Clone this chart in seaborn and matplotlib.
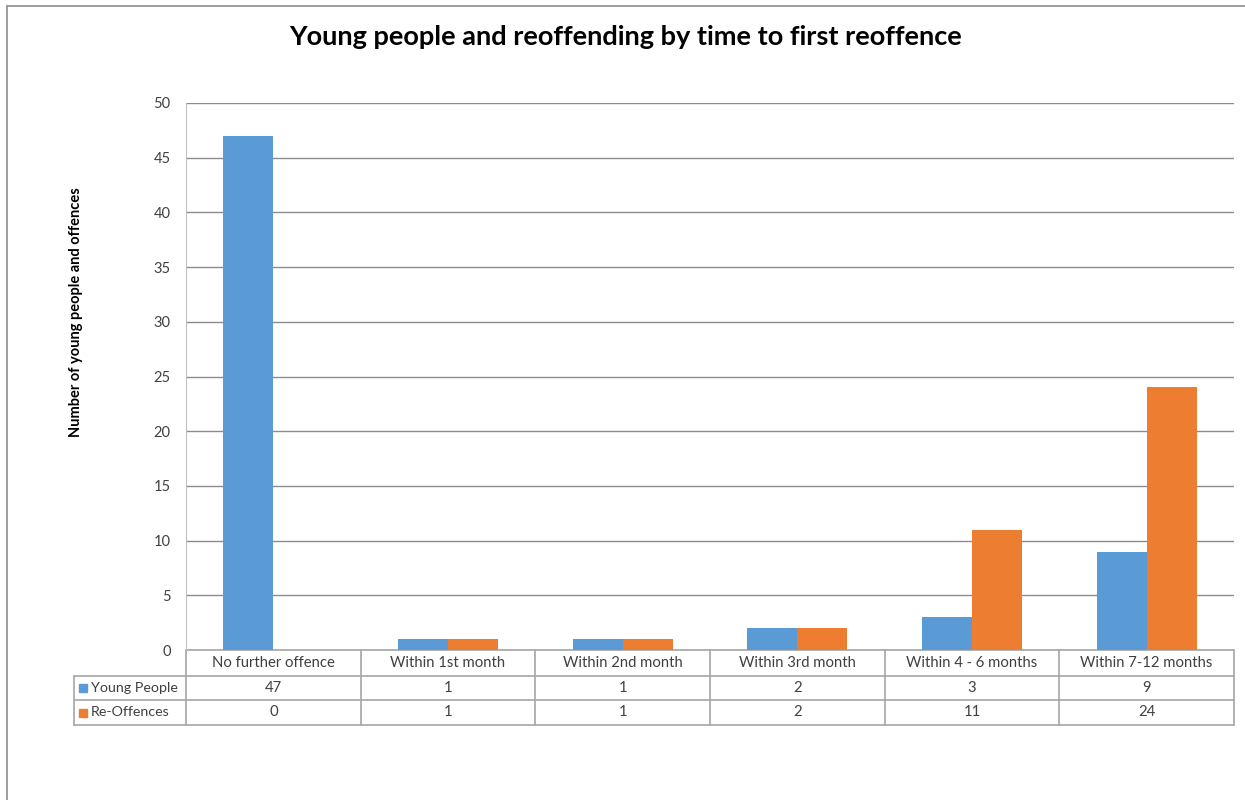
import matplotlib
matplotlib.use("Agg")
import matplotlib.pyplot as plt
import matplotlib.transforms as mtransforms
from matplotlib.patches import Rectangle
import seaborn as sns
import pandas as pd

categories = ["No further offence", "Within 1st month", "Within 2nd month",
              "Within 3rd month", "Within 4 - 6 months", "Within 7-12 months"]
young_people = [47, 1, 1, 2, 3, 9]
re_offences = [0, 1, 1, 2, 11, 24]
series_names = ["Young People", "Re-Offences"]
colors = ["#5B9BD5", "#ED7D31"]
y_ticks = [0, 5, 10, 15, 20, 25, 30, 35, 40, 45, 50]

df = pd.DataFrame({
    "category": categories * 2,
    "series": [series_names[0]] * len(categories) + [series_names[1]] * len(categories),
    "value": young_people + re_offences,
})

sns.set_style("white")
plt.rcParams["font.family"] = ["Lato", "DejaVu Sans"]

W, H = 1245, 800
fig = plt.figure(figsize=(W / 100, H / 100), dpi=100)
ax = fig.add_axes([186 / W, 1 - 650 / H, (1234 - 186) / W, (650 - 103) / H])

sns.barplot(data=df, x="category", y="value", hue="series", palette=colors,
            width=0.572, saturation=1, ax=ax, legend=False, zorder=3, linewidth=0)

ax.set_xlim(-0.5, len(categories) - 0.5)
ax.set_ylim(0, 50)
ax.set_yticks(y_ticks)
ax.yaxis.grid(True, color="#8C8C8C", linewidth=1, zorder=0)
ax.set_axisbelow(True)
ax.set_xticks([])
ax.set_xlabel("")
ax.set_ylabel("")
for s in ["top", "right", "bottom"]:
    ax.spines[s].set_visible(False)
ax.spines["left"].set_color("#BFBFBF")
ax.tick_params(axis="y", length=5, color="#8C8C8C", labelsize=10.5, labelcolor="#404040", pad=6)

# Chart title and y-axis label
fig.text(626 / W, 1 - 37 / H, "Young people and reoffending by time to first reoffence",
         ha="center", va="center", fontsize=19.5, fontweight="bold", color="black")
fig.text(76 / W, 1 - 312 / H, "Number of young people and offences", rotation=90,
         ha="center", va="center", fontsize=10.5, fontweight="bold", color="black")

# Data table beneath the plot
tr = mtransforms.blended_transform_factory(ax.transData, fig.transFigure)
trf = fig.transFigure
line_kw = dict(color="#A6A6A6", linewidth=1.2, clip_on=False)
rows_px = [650, 676, 700, 725]
ry = [1 - p / H for p in rows_px]
n = len(categories)
left_x = 74 / W

ax.plot([-0.5, n - 0.5], [ry[0], ry[0]], transform=tr, **line_kw)
for y in ry[1:]:
    fig.lines.append(plt.Line2D([left_x, 1234 / W], [y, y], transform=trf, **line_kw))
for i in range(n + 1):
    ax.plot([i - 0.5, i - 0.5], [ry[0], ry[3]], transform=tr, **line_kw)
fig.lines.append(plt.Line2D([left_x, left_x], [ry[1], ry[3]], transform=trf, **line_kw))

txt_kw = dict(ha="center", va="center", fontsize=10.7, color="#404040")
for i, cat in enumerate(categories):
    ax.text(i, (ry[0] + ry[1]) / 2, cat, transform=tr, **txt_kw)
    ax.text(i, (ry[1] + ry[2]) / 2, str(young_people[i]), transform=tr, **txt_kw)
    ax.text(i, (ry[2] + ry[3]) / 2, str(re_offences[i]), transform=tr, **txt_kw)

for k, (name, col) in enumerate(zip(series_names, colors)):
    yc = (ry[k + 1] + ry[k + 2]) / 2
    fig.patches.append(Rectangle((79 / W, yc - 4 / H), 8 / W, 8 / H,
                                 transform=trf, color=col))
    fig.text(91 / W, yc, name, ha="left", va="center", fontsize=10.3, color="#404040")

# Chart border
fig.patches.append(Rectangle((7 / W, -0.1), 1.2, 1 - 6 / H + 0.1, transform=trf,
                             fill=False, edgecolor="#8C8C8C", linewidth=1.2))

fig.savefig("out.png", dpi=100)
